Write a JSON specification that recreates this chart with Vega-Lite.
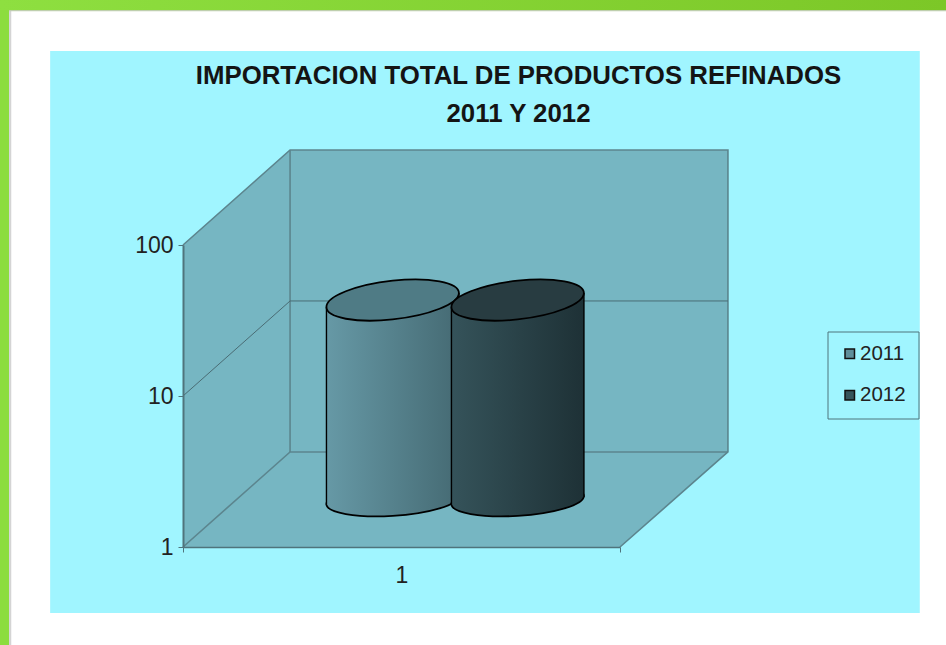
{
"$schema":"https://vega.github.io/schema/vega-lite/v6.json",
"autosize":"none","width":437,"height":302,
"padding":{"left":183,"top":245,"right":326,"bottom":98},
"background":"#ffffff",
"config":{"view":{"stroke":null},"font":"Liberation Sans"},
"title":{"text":["IMPORTACION TOTAL DE PRODUCTOS REFINADOS","2011 Y 2012"],"anchor":"middle","dx":117,"offset":-128,"font":"Liberation Sans","fontSize":25.8,"fontWeight":"bold","color":"#141414","lineHeight":38.5},
"datasets":{
"fondos":[
{"zona":"borde izquierdo","x":0.081,"x2":0.102,"y":4195,"y2":0.2244},
{"zona":"sombra","x":0.102,"x2":0.107,"y":3600,"y2":0.2244},
{"zona":"grafico","x":0.196,"x2":2.186,"y":1927,"y2":0.3656},
{"zona":"pared","x":0.745,"x2":1.747,"y":426,"y2":4.26}],
"bandas":[{"zona":"borde superior","x":0.081,"x2":2.25,"y":4195,"y2":3600},
{"zona":"sombra superior","x":0.102,"x2":2.25,"y":3600,"y2":3530}],
"paredes":[
{"plano":"lateral","x":0.5,"y":100,"y2":1},
{"plano":"lateral","x":0.745,"y":426,"y2":4.26},
{"plano":"suelo","x":0.5,"y":1,"y2":1},
{"plano":"suelo","x":0.745,"y":4.26,"y2":1},
{"plano":"suelo","x":1.5,"y":4.26,"y2":1},
{"plano":"suelo","x":1.747,"y":4.26,"y2":4.26}],
"lineas":[
{"linea":"r10","o":1,"x":0.5,"y":10},{"linea":"r10","o":2,"x":0.745,"y":42.6},{"linea":"r10","o":3,"x":1.747,"y":42.6},
{"linea":"r100","o":1,"x":0.5,"y":100},{"linea":"r100","o":2,"x":0.745,"y":426},{"linea":"r100","o":3,"x":1.747,"y":426},{"linea":"r100","o":4,"x":1.747,"y":4.26},{"linea":"r100","o":5,"x":1.5,"y":1},
{"linea":"r1","o":1,"x":0.5,"y":1},{"linea":"r1","o":2,"x":0.745,"y":4.26},{"linea":"r1","o":3,"x":1.747,"y":4.26},
{"linea":"rv","o":1,"x":0.745,"y":426},{"linea":"rv","o":2,"x":0.745,"y":4.26}],
"cilindros":[
{"serie":"2011","pos":0.8585,"valor":21.1,"base":1},
{"serie":"2012","pos":1.1445,"valor":21.1,"base":1}],
"cuerpos":[
{"serie":"2011","x":0.707,"arriba":19.0,"abajo":0.927},
{"serie":"2011","x":1.0102,"arriba":23.5,"abajo":1.047},
{"serie":"2012","x":0.993,"arriba":19.0,"abajo":0.927},
{"serie":"2012","x":1.2962,"arriba":23.5,"abajo":1.047}]
},
"layer":[
{"data":{"name":"fondos"},
 "mark":{"type":"rect"},
 "encoding":{
  "x":{"field":"x","type":"quantitative","scale":{"domain":[0.5,1.5],"nice":false,"zero":false},
   "axis":{"title":null,"values":[0.5,1,1.5],"labelExpr":"datum.value==1?'1':''","grid":false,"zindex":1,"domainColor":"#4F747C","domainWidth":1.5,"tickColor":"#4F747C","tickSize":5,"tickOpacity":{"condition":{"test":"datum.value==1","value":0},"value":1},"labelFontSize":23,"labelColor":"#222222","labelFont":"Liberation Sans","labelPadding":12,"labelOverlap":false,"labelBound":false,"labelFlush":false}},
  "x2":{"field":"x2"},
  "y":{"field":"y","type":"quantitative","scale":{"type":"log","domain":[1,100],"nice":false},
   "axis":{"title":null,"values":[1,10,100],"format":"d","grid":false,"zindex":1,"domainColor":"#4F747C","domainWidth":2,"tickColor":"#4F747C","tickSize":5,"labelFontSize":23,"labelColor":"#222222","labelFont":"Liberation Sans","labelPadding":5,"labelOverlap":false,"labelBound":false,"labelFlush":false}},
  "y2":{"field":"y2"},
  "fill":{"field":"zona","type":"nominal","legend":null,"scale":{"domain":["borde izquierdo","sombra","grafico","pared"],"range":["#8CDD3E","#D4D4D4","#A0F5FF","#76B6C2"]}}
 }},
{"data":{"name":"bandas"},"transform":[{"filter":"datum.zona=='borde superior'"}],
 "mark":{"type":"rect","fill":{"gradient":"linear","x1":0,"x2":1,"y1":0,"y2":0,"stops":[{"offset":0,"color":"#8EDF40"},{"offset":1,"color":"#7CC727"}]}},
 "encoding":{"x":{"field":"x","type":"quantitative"},"x2":{"field":"x2"},"y":{"field":"y","type":"quantitative"},"y2":{"field":"y2"}}},
{"data":{"name":"bandas"},"transform":[{"filter":"datum.zona=='sombra superior'"}],
 "mark":{"type":"rect","fill":"#BFCFAE"},
 "encoding":{"x":{"field":"x","type":"quantitative"},"x2":{"field":"x2"},"y":{"field":"y","type":"quantitative"},"y2":{"field":"y2"}}},
{"data":{"name":"paredes"},
 "mark":{"type":"area","color":"#76B6C2"},
 "encoding":{"x":{"field":"x","type":"quantitative"},"y":{"field":"y","type":"quantitative"},"y2":{"field":"y2"},"detail":{"field":"plano"}}},
{"data":{"name":"lineas"},
 "transform":[{"filter":"datum.linea!='r10'"}],
 "mark":{"type":"line","color":"#5C858E","strokeWidth":1.6},
 "encoding":{"x":{"field":"x","type":"quantitative"},"y":{"field":"y","type":"quantitative"},"detail":{"field":"linea"},"order":{"field":"o"}}},
{"data":{"name":"lineas"},
 "transform":[{"filter":"datum.linea=='r10'"}],
 "mark":{"type":"line","color":"#4A6C74","strokeWidth":1},
 "encoding":{"x":{"field":"x","type":"quantitative"},"y":{"field":"y","type":"quantitative"},"order":{"field":"o"}}},

{"data":{"name":"cilindros"},"transform":[{"filter":"datum.serie=='2011'"}],
 "mark":{"type":"point","filled":true,"opacity":1,"size":17556,"fill":{"gradient":"linear","x1":0,"x2":1,"y1":0,"y2":0,"stops":[{"offset":0,"color":"#6699A6"},{"offset":1,"color":"#456A73"}]},"stroke":"#000000","strokeWidth":1.8,"xOffset":53,"yOffset":-47,"shape":"M-1 .06C-1 -.073 -.552 -.207 0 -.24C.552 -.273 1 -.193 1 -.06C1 .073 .552 .207 0 .24C-.552 .273 -1 .193 -1 .06Z"},
 "encoding":{"x":{"field":"pos","type":"quantitative"},"y":{"field":"base","type":"quantitative"}}},
{"data":{"name":"cuerpos"},"transform":[{"filter":"datum.serie=='2011'"}],
 "mark":{"type":"area","xOffset":53,"yOffset":-47,"y2Offset":-47,"fill":{"gradient":"linear","x1":0,"x2":1,"y1":0,"y2":0,"stops":[{"offset":0,"color":"#6699A6"},{"offset":1,"color":"#456A73"}]}},
 "encoding":{"x":{"field":"x","type":"quantitative"},"y":{"field":"arriba","type":"quantitative"},"y2":{"field":"abajo"}}},
{"data":{"name":"cuerpos"},"transform":[{"filter":"datum.serie=='2011'"}],
 "mark":{"type":"rule","color":"#000000","strokeWidth":1.4,"xOffset":53,"yOffset":-47,"y2Offset":-47},
 "encoding":{"x":{"field":"x","type":"quantitative"},"y":{"field":"arriba","type":"quantitative"},"y2":{"field":"abajo"}}},
{"data":{"name":"cilindros"},"transform":[{"filter":"datum.serie=='2011'"}],
 "mark":{"type":"point","filled":true,"opacity":1,"size":17556,"fill":"#4F7B85","stroke":"#000000","strokeWidth":1.8,"xOffset":53,"yOffset":-47,"shape":"M-1 .106C-1 -.056 -.552 -.234 0 -.293C.552 -.352 1 -.268 1 -.106C1 .056 .552 .234 0 .293C-.552 .352 -1 .268 -1 .106Z"},
 "encoding":{"x":{"field":"pos","type":"quantitative"},"y":{"field":"valor","type":"quantitative"}}},

{"data":{"name":"cilindros"},"transform":[{"filter":"datum.serie=='2012'"}],
 "mark":{"type":"point","filled":true,"opacity":1,"size":17556,"fill":{"gradient":"linear","x1":0,"x2":1,"y1":0,"y2":0,"stops":[{"offset":0,"color":"#35535A"},{"offset":1,"color":"#1E3136"}]},"stroke":"#000000","strokeWidth":1.8,"xOffset":53,"yOffset":-47,"shape":"M-1 .06C-1 -.073 -.552 -.207 0 -.24C.552 -.273 1 -.193 1 -.06C1 .073 .552 .207 0 .24C-.552 .273 -1 .193 -1 .06Z"},
 "encoding":{"x":{"field":"pos","type":"quantitative"},"y":{"field":"base","type":"quantitative"}}},
{"data":{"name":"cuerpos"},"transform":[{"filter":"datum.serie=='2012'"}],
 "mark":{"type":"area","xOffset":53,"yOffset":-47,"y2Offset":-47,"fill":{"gradient":"linear","x1":0,"x2":1,"y1":0,"y2":0,"stops":[{"offset":0,"color":"#35535A"},{"offset":1,"color":"#1E3136"}]}},
 "encoding":{"x":{"field":"x","type":"quantitative"},"y":{"field":"arriba","type":"quantitative"},"y2":{"field":"abajo"}}},
{"data":{"name":"cuerpos"},"transform":[{"filter":"datum.serie=='2012'"}],
 "mark":{"type":"rule","color":"#000000","strokeWidth":1.4,"xOffset":53,"yOffset":-47,"y2Offset":-47},
 "encoding":{"x":{"field":"x","type":"quantitative"},"y":{"field":"arriba","type":"quantitative"},"y2":{"field":"abajo"}}},
{"data":{"name":"cilindros"},"transform":[{"filter":"datum.serie=='2012'"}],
 "mark":{"type":"point","filled":true,"opacity":1,"size":17556,"fill":"#283C41","stroke":"#000000","strokeWidth":1.8,"xOffset":53,"yOffset":-47,"shape":"M-1 .106C-1 -.056 -.552 -.234 0 -.293C.552 -.352 1 -.268 1 -.106C1 .056 .552 .234 0 .293C-.552 .352 -1 .268 -1 .106Z"},
 "encoding":{"x":{"field":"pos","type":"quantitative"},"y":{"field":"valor","type":"quantitative"}}},

{"data":{"name":"cilindros"},
 "mark":{"type":"square","filled":true,"opacity":0,"size":100},
 "encoding":{"x":{"field":"pos","type":"quantitative"},"y":{"field":"valor","type":"quantitative"},
  "color":{"field":"serie","type":"nominal","scale":{"domain":["2011","2012"],"range":["#5F8E9A","#36545B"]},
   "legend":{"title":null,"orient":"none","legendX":644.5,"legendY":86.5,"padding":12,"fillColor":"#A0F5FF","strokeColor":"#4F747C","symbolType":"square","symbolSize":90,"symbolStrokeColor":"#111111","symbolStrokeWidth":1.5,"symbolOpacity":1,"labelFontSize":20.5,"labelFont":"Liberation Sans","labelColor":"#222222","rowPadding":20.5,"labelOffset":0}}}}
]
}
